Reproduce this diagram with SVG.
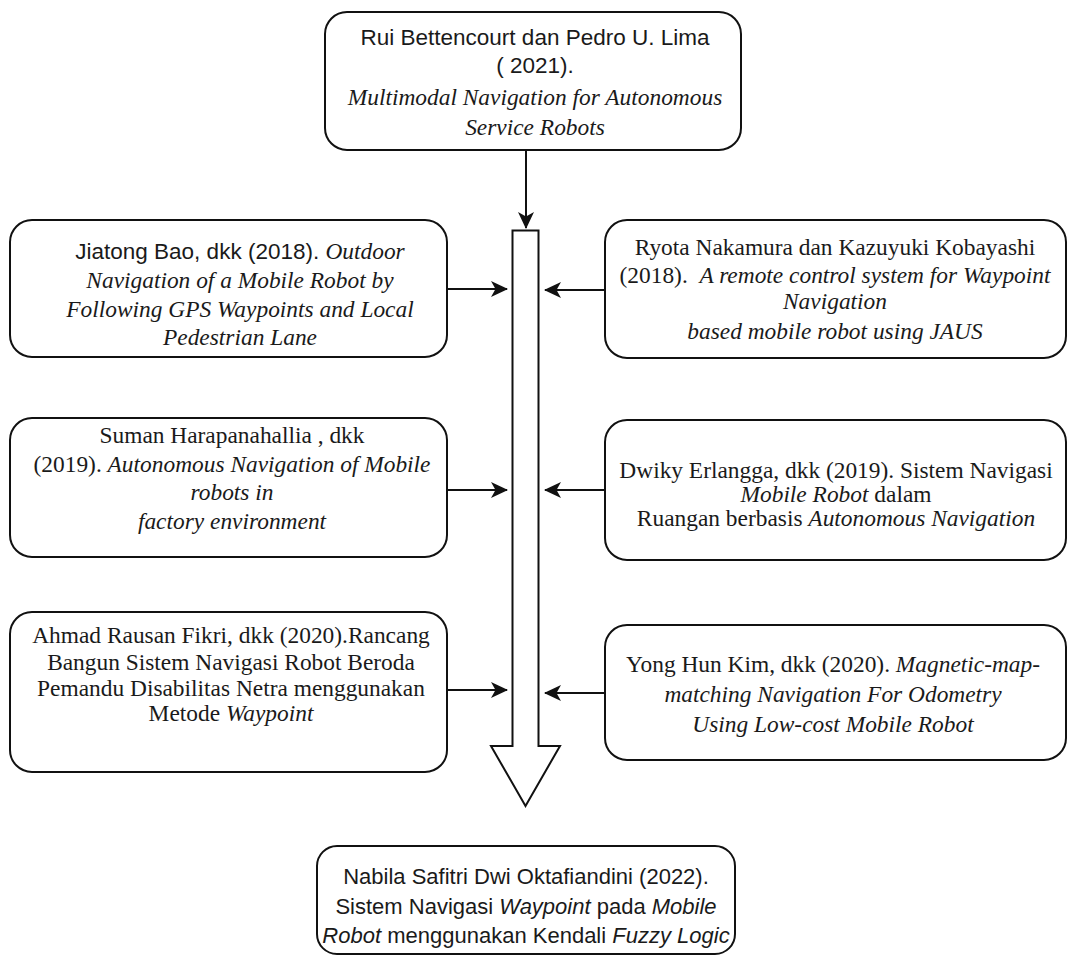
<svg xmlns="http://www.w3.org/2000/svg" width="1076" height="960" viewBox="0 0 1076 960">
<defs>
<style>
.box{fill:#fff;stroke:#111;stroke-width:2}
.ln{fill:none;stroke:#111;stroke-width:2}
text{fill:#1a1a1a;text-anchor:middle;font-size:23.4px}
.a{font-family:'Liberation Sans',Arial,sans-serif;font-size:22.5px}
.t{font-family:'Liberation Serif','Times New Roman',serif}
.i{font-style:italic}
.top{font-size:22px}
.l1{font-size:22.6px}
.r1{font-size:23.8px}
.bot{font-size:22px}
.bot .a{font-size:22px}
</style>
<marker id="arr" viewBox="0 0 17 16" refX="16" refY="8" markerWidth="17" markerHeight="16" markerUnits="userSpaceOnUse" orient="auto">
<path d="M0,0 L17,8 L0,16 L4.5,8 Z" fill="#111"/>
</marker>
</defs>
<rect width="1076" height="960" fill="#fff"/>

<g id="connectors">
<line class="ln" x1="526" y1="150" x2="526" y2="228" marker-end="url(#arr)"/>
<polygon id="main-arrow" class="box" points="512.5,230.5 538.5,230.5 538.5,746 560,746 525.5,806 491,746 512.5,746"/>
<line class="ln" x1="447" y1="289" x2="507" y2="289" marker-end="url(#arr)"/>
<line class="ln" x1="447" y1="490" x2="507" y2="490" marker-end="url(#arr)"/>
<line class="ln" x1="447" y1="690" x2="507" y2="690" marker-end="url(#arr)"/>
<line class="ln" x1="605" y1="290" x2="545" y2="290" marker-end="url(#arr)"/>
<line class="ln" x1="605" y1="490" x2="545" y2="490" marker-end="url(#arr)"/>
<line class="ln" x1="605" y1="693" x2="545" y2="693" marker-end="url(#arr)"/>
</g>

<g id="node-top" class="top">
<rect class="box" x="325" y="12" width="416" height="138" rx="22"/>
<text class="a" x="535" y="45">Rui Bettencourt dan Pedro U. Lima</text>
<text class="a" x="535" y="73">( 2021).</text>
<text class="t i" x="535" y="105">Multimodal Navigation for Autonomous</text>
<text class="t i" x="535" y="135">Service Robots</text>
</g>

<g id="node-left1" class="l1">
<rect class="box" x="10" y="220" width="437" height="137" rx="22"/>
<text x="240" y="259"><tspan class="a">Jiatong Bao, dkk (2018). </tspan><tspan class="t i">Outdoor</tspan></text>
<text class="t i" x="240" y="288">Navigation of a Mobile Robot by</text>
<text class="t i" x="240" y="317">Following GPS Waypoints and Local</text>
<text class="t i" x="240" y="345">Pedestrian Lane</text>
</g>

<g id="node-right1" class="r1">
<rect class="box" x="605" y="220" width="461" height="138" rx="22"/>
<text class="t" x="835" y="255">Ryota Nakamura dan Kazuyuki Kobayashi</text>
<text class="t" x="835" y="283" xml:space="preserve">(2018).  <tspan class="i">A remote control system for Waypoint</tspan></text>
<text class="t i" x="835" y="309">Navigation</text>
<text class="t i" x="835" y="339">based mobile robot using JAUS</text>
</g>

<g id="node-left2">
<rect class="box" x="10" y="418" width="437" height="139" rx="22"/>
<text class="t" x="232" y="443">Suman Harapanahallia , dkk</text>
<text class="t" x="232" y="472">(2019). <tspan class="i">Autonomous Navigation of Mobile</tspan></text>
<text class="t i" x="232" y="500">robots in</text>
<text class="t i" x="232" y="529">factory environment</text>
</g>

<g id="node-right2">
<rect class="box" x="605" y="420" width="461" height="140" rx="22"/>
<text class="t" x="836" y="478">Dwiky Erlangga, dkk (2019). Sistem Navigasi</text>
<text class="t" x="836" y="502"><tspan class="i">Mobile Robot</tspan> dalam</text>
<text class="t" x="836" y="526">Ruangan berbasis <tspan class="i">Autonomous Navigation</tspan></text>
</g>

<g id="node-left3">
<rect class="box" x="10" y="612" width="437" height="160" rx="22"/>
<text class="t" x="231" y="643">Ahmad Rausan Fikri, dkk (2020).Rancang</text>
<text class="t" x="231" y="670">Bangun Sistem Navigasi Robot Beroda</text>
<text class="t" x="231" y="696">Pemandu Disabilitas Netra menggunakan</text>
<text class="t" x="231" y="721">Metode <tspan class="i">Waypoint</tspan></text>
</g>

<g id="node-right3">
<rect class="box" x="605" y="625" width="461" height="135" rx="22"/>
<text class="t" x="833" y="672">Yong Hun Kim, dkk (2020). <tspan class="i">Magnetic-map-</tspan></text>
<text class="t i" x="833" y="702">matching Navigation For Odometry</text>
<text class="t i" x="833" y="732">Using Low-cost Mobile Robot</text>
</g>

<g id="node-bottom" class="bot">
<rect class="box" x="317" y="846" width="418" height="108" rx="20"/>
<text class="a" x="526" y="884">Nabila Safitri Dwi Oktafiandini (2022).</text>
<text class="a" x="526" y="914">Sistem Navigasi <tspan class="i">Waypoint</tspan> pada <tspan class="i">Mobile</tspan></text>
<text class="a" x="526" y="943"><tspan class="i">Robot</tspan> menggunakan Kendali <tspan class="i">Fuzzy Logic</tspan></text>
</g>
</svg>
